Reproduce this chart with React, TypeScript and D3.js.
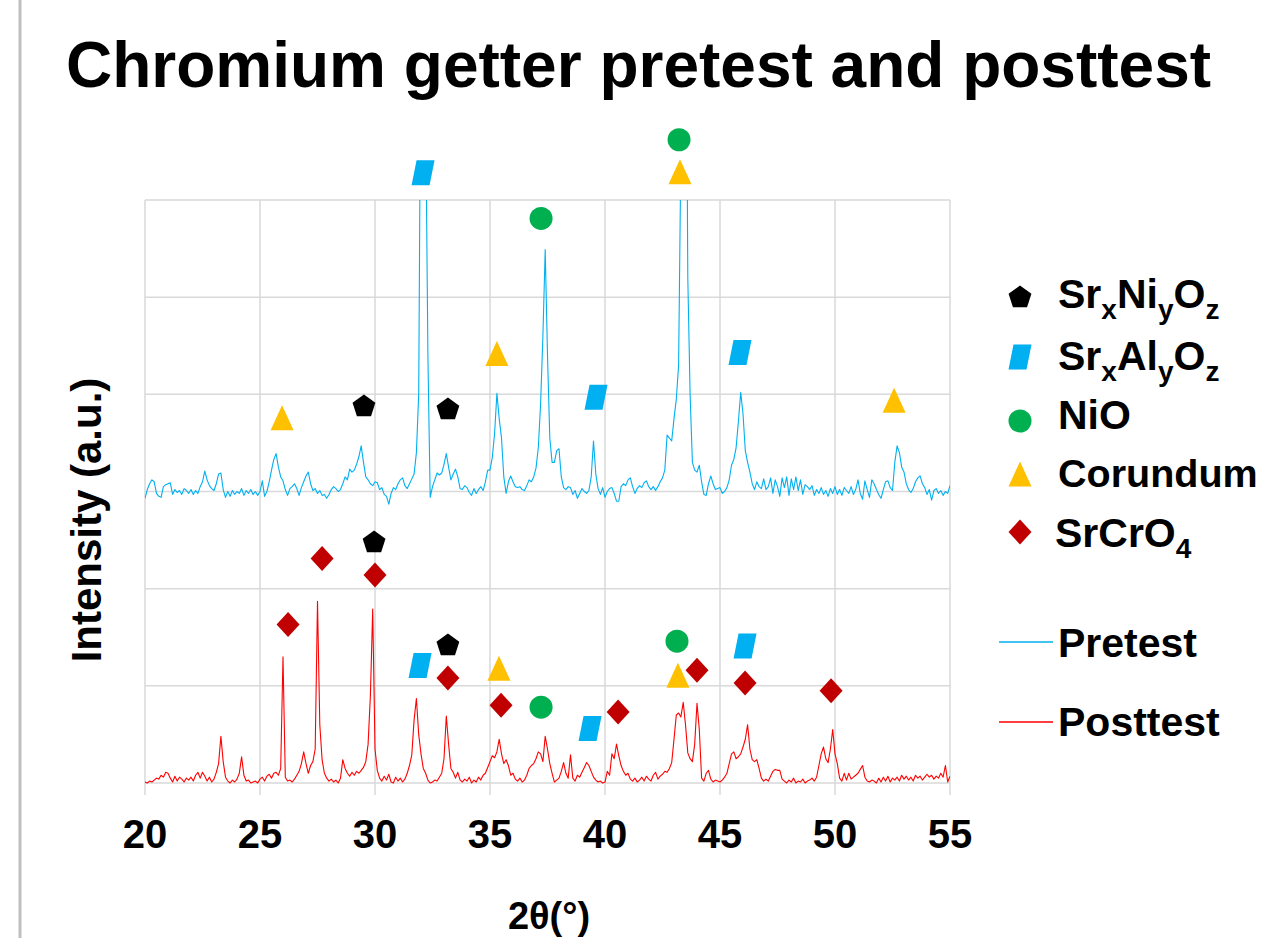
import React from "react";
import * as d3 from "d3";

// XRD scans, 20° to 55° in 0.1° steps (one row per degree)
const startAngle = 20;
const stepAngle = 0.1;

const pretest = [
  -0.07, 0.02, 0.08, 0.12, 0.10, -0.02, -0.05, -0.06, 0.05, 0.07,
  0.08, 0.09, -0.03, 0.02, -0.01, 0.01, -0.03, 0.03, 0.01, -0.02,
  0.02, -0.03, 0.01, -0.02, 0.05, 0.10, 0.21, 0.12, 0.06, 0.03,
  0.01, 0.08, 0.18, 0.19, 0.02, -0.06, 0.00, -0.05, 0.01, -0.03,
  0.00, -0.02, 0.03, -0.04, 0.01, -0.02, 0.02, -0.03, 0.00, -0.04,
  0.00, 0.11, -0.05, 0.00, 0.10, 0.22, 0.33, 0.39, 0.25, 0.15,
  0.11, 0.02, -0.04, 0.03, 0.05, 0.08, 0.03, -0.04, 0.04, 0.10,
  0.16, 0.20, 0.08, 0.01, 0.03, -0.02, 0.01, -0.04, -0.03, -0.07,
  -0.03, 0.02, 0.05, 0.03, 0.00, 0.02, 0.08, 0.15, 0.12, 0.23,
  0.20, 0.22, 0.28, 0.36, 0.47, 0.30, 0.15, 0.12, 0.08, 0.06,
  0.10, 0.09, 0.02, 0.04, -0.03, -0.05, -0.13, -0.02, 0.04, 0.02,
  0.08, 0.12, 0.14, 0.06, 0.03, 0.08, 0.13, 0.18, 0.40, 1.00,
  5.00, 9.00, 4.00, 1.40, -0.06, 0.05, 0.12, 0.19, 0.17, 0.19,
  0.28, 0.39, 0.25, 0.12, 0.18, 0.23, 0.15, 0.03, 0.02, 0.06,
  0.04, -0.01, -0.04, 0.03, -0.02, 0.02, 0.05, 0.01, 0.10, 0.22,
  0.22, 0.35, 0.60, 1.01, 0.75, 0.55, 0.15, -0.02, 0.10, 0.16,
  0.10, 0.05, 0.04, 0.05, 0.02, 0.01, 0.06, 0.12, 0.10, 0.15,
  0.24, 0.45, 0.90, 1.60, 2.49, 1.40, 0.55, 0.30, 0.30, 0.42,
  0.44, 0.15, 0.04, 0.02, 0.05, 0.04, -0.03, 0.01, -0.07, -0.02,
  0.03, 0.00, -0.02, 0.01, 0.15, 0.52, 0.18, 0.03, -0.03, 0.04,
  -0.06, 0.00, 0.03, 0.04, -0.02, -0.10, -0.10, 0.05, 0.08, 0.06,
  0.12, 0.14, 0.05, -0.02, 0.03, 0.06, 0.04, 0.09, 0.11, 0.05,
  0.02, 0.05, 0.01, 0.05, 0.10, 0.14, 0.22, 0.58, 0.55, 0.52,
  0.75, 0.95, 1.30, 3.50, 7.50, 6.50, 2.20, 1.00, 0.30, 0.22,
  0.20, 0.27, 0.10, -0.03, -0.04, 0.08, 0.16, 0.08, 0.02, 0.03,
  0.04, -0.02, 0.00, 0.04, 0.12, 0.27, 0.33, 0.45, 0.72, 1.02,
  0.80, 0.42, 0.30, 0.20, 0.08, 0.02, 0.10, 0.05, 0.03, 0.13,
  0.02, 0.05, 0.14, -0.02, 0.12, 0.05, -0.05, 0.14, 0.04, 0.15,
  -0.04, 0.13, 0.02, 0.15, 0.01, 0.12, -0.03, 0.07, 0.05, 0.02,
  0.06, -0.04, 0.02, -0.02, 0.04, -0.03, 0.01, -0.05, 0.03, -0.02,
  0.05, -0.03, 0.02, -0.04, 0.04, 0.01, -0.02, 0.05, -0.03, 0.02,
  0.12, -0.02, -0.08, 0.11, 0.02, -0.06, 0.12, 0.08, 0.02, -0.03,
  -0.07, 0.02, 0.10, 0.11, 0.04, 0.01, 0.30, 0.47, 0.40, 0.25,
  0.20, 0.08, 0.02, -0.01, 0.03, 0.10, 0.14, 0.16, 0.08, 0.04,
  -0.03, 0.02, -0.09, 0.01, 0.03, -0.02, 0.01, -0.04, 0.00, -0.02,
  0.06,
];

const posttest = [
  0.01, 0.00, 0.02, 0.01, 0.03, 0.05, 0.04, 0.08, 0.06, 0.11,
  0.10, 0.05, 0.01, 0.07, 0.02, 0.06, 0.04, 0.01, 0.05, 0.03,
  0.06, 0.02, 0.08, 0.11, 0.05, 0.11, 0.07, 0.02, 0.06, 0.01,
  0.04, 0.11, 0.20, 0.48, 0.22, 0.06, 0.02, 0.00, 0.03, 0.01,
  0.04, 0.10, 0.27, 0.08, 0.02, 0.03, 0.00, 0.01, 0.02, 0.00,
  0.04, 0.06, 0.02, 0.07, 0.09, 0.05, 0.10, 0.11, 0.08, 0.15,
  1.30, 0.06, 0.02, 0.03, 0.01, 0.04, 0.08, 0.12, 0.20, 0.32,
  0.20, 0.10, 0.18, 0.22, 0.35, 1.87, 0.60, 0.24, 0.10, 0.05,
  0.02, 0.04, 0.01, 0.03, 0.00, 0.05, 0.24, 0.15, 0.10, 0.07,
  0.11, 0.08, 0.12, 0.10, 0.13, 0.16, 0.22, 0.40, 0.90, 1.79,
  0.35, 0.13, 0.05, 0.02, 0.07, 0.03, 0.09, 0.01, 0.00, 0.06,
  0.02, 0.05, 0.01, 0.04, 0.10, 0.18, 0.29, 0.65, 0.87, 0.50,
  0.30, 0.15, 0.10, 0.03, 0.00, 0.01, 0.03, 0.02, 0.06, 0.10,
  0.25, 0.69, 0.40, 0.15, 0.11, 0.05, 0.11, 0.03, 0.01, 0.04,
  0.02, 0.06, 0.00, 0.03, 0.01, 0.06, 0.03, 0.08, 0.10, 0.16,
  0.22, 0.28, 0.26, 0.32, 0.45, 0.30, 0.20, 0.24, 0.18, 0.08,
  0.10, 0.04, 0.02, 0.05, 0.01, 0.03, 0.08, 0.15, 0.18, 0.20,
  0.25, 0.32, 0.30, 0.22, 0.48, 0.35, 0.20, 0.10, 0.01, 0.03,
  0.05, 0.12, 0.21, 0.10, 0.05, 0.29, 0.05, 0.02, 0.08, 0.06,
  0.11, 0.16, 0.21, 0.18, 0.12, 0.06, 0.03, 0.01, 0.02, 0.00,
  0.01, 0.12, 0.08, 0.30, 0.25, 0.40, 0.28, 0.18, 0.12, 0.08,
  0.10, 0.04, 0.02, 0.05, 0.01, 0.03, 0.06, 0.02, 0.07, 0.04,
  0.02, 0.08, 0.11, 0.04, 0.07, 0.09, 0.12, 0.11, 0.15, 0.21,
  0.45, 0.70, 0.72, 0.68, 0.83, 0.60, 0.31, 0.25, 0.22, 0.40,
  0.82, 0.55, 0.05, 0.02, 0.10, 0.13, 0.04, 0.01, 0.03, 0.02,
  0.01, 0.03, 0.06, 0.10, 0.20, 0.30, 0.32, 0.25, 0.27, 0.30,
  0.37, 0.45, 0.60, 0.35, 0.24, 0.22, 0.24, 0.15, 0.05, 0.02,
  0.04, 0.02, 0.07, 0.12, 0.14, 0.13, 0.13, 0.04, 0.02, 0.00,
  0.03, 0.01, 0.05, 0.00, 0.02, 0.01, 0.04, 0.00, 0.02, 0.03,
  0.05, 0.02, 0.06, 0.18, 0.30, 0.37, 0.25, 0.21, 0.35, 0.55,
  0.30, 0.20, 0.05, 0.02, 0.10, 0.03, 0.10, 0.04, 0.06, 0.08,
  0.10, 0.14, 0.18, 0.06, 0.02, 0.01, 0.03, 0.02, 0.00, 0.05,
  0.01, 0.06, 0.02, 0.07, 0.01, 0.05, 0.03, 0.06, 0.02, 0.08,
  0.04, 0.07, 0.03, 0.06, 0.02, 0.08, 0.05, 0.07, 0.03, 0.06,
  0.09, 0.06, 0.08, 0.04, 0.07, 0.05, 0.10, 0.06, 0.18, 0.01,
  0.07,
];

const pretestOffset = 3;

// phase markers [2θ, intensity]
const srNiO = [[29.52, 3.89], [33.17, 3.86], [29.96, 2.49], [33.17, 1.43]];
const srAlO = [[32.09, 6.28], [39.61, 3.97], [45.87, 4.43], [31.96, 1.21], [39.35, 0.56], [46.09, 1.41]];
const niO = [[43.22, 6.62], [37.22, 5.81], [37.22, 0.78], [43.13, 1.46]];
const corundum = [[43.26, 6.29], [35.3, 4.42], [25.96, 3.76], [52.57, 3.94], [35.39, 1.18], [43.17, 1.11]];
const srCrO4 = [[27.7, 2.31], [30.0, 2.14], [26.22, 1.63], [33.17, 1.08], [35.48, 0.8], [40.57, 0.73], [44.0, 1.16], [46.09, 1.03], [49.83, 0.95]];

const xTicks = [20, 25, 30, 35, 40, 45, 50, 55];

const FONT = "'Liberation Sans', Arial, Helvetica, sans-serif";
const BLUE = "#00B0F0";
const RED = "#FF0000";
const GRID = "#D9D9D9";

const pentagon = d3.range(5).map(k => {
  const a = -Math.PI / 2 + k * 2 * Math.PI / 5;
  return [12 * Math.cos(a), 12 * Math.sin(a) + 1.5];
});
const shapes = {
  pentagon: "M" + pentagon.map(p => p.join(",")).join("L") + "Z",
  para: "M-6.5,-12.5L11.5,-12.5L6.5,12.5L-11.5,12.5Z",
  triangle: "M0,-12.5L11.5,12.5L-11.5,12.5Z",
  diamond: "M0,-12.5L11.5,0L0,12.5L-11.5,0Z",
};

const phases = [
  { key: "srni", data: srNiO, shape: "pentagon", color: "#000000" },
  { key: "sral", data: srAlO, shape: "para", color: BLUE },
  { key: "nio", data: niO, shape: "circle", color: "#00B050" },
  { key: "cor", data: corundum, shape: "triangle", color: "#FFC000" },
  { key: "srcr", data: srCrO4, shape: "diamond", color: "#C00000" },
];

function Marker({ shape, color, x, y }) {
  if (shape === "circle") return <circle cx={x} cy={y} r={11.5} fill={color} />;
  return <path d={shapes[shape]} transform={`translate(${x},${y})`} fill={color} />;
}

export default function App() {
  const left = 145, right = 950, top = 200, bottom = 783;
  const x = d3.scaleLinear().domain([20, 55]).range([left, right]);
  const y = d3.scaleLinear().domain([0, 6]).range([bottom, top]);

  const line = (offset: number) =>
    d3.line<number>()
      .x((_, i) => x(startAngle + i * stepAngle))
      .y(d => y(d + offset));

  const legendRows = [
    { shape: "pentagon", color: "#000000", y: 296, tx: 1058, base: 308, size: 41, parts: [["Sr"], ["x", 1], ["Ni"], ["y", 1], ["O"], ["z", 1]] },
    { shape: "para", color: BLUE, y: 357, tx: 1058, base: 370, size: 41, parts: [["Sr"], ["x", 1], ["Al"], ["y", 1], ["O"], ["z", 1]] },
    { shape: "circle", color: "#00B050", y: 421, tx: 1058, base: 429, size: 41, parts: [["NiO"]] },
    { shape: "triangle", color: "#FFC000", y: 474, tx: 1058, base: 487, size: 39.5, parts: [["Corundum"]] },
    { shape: "diamond", color: "#C00000", y: 532, tx: 1055, base: 547, size: 41, parts: [["SrCrO"], ["4", 1]] },
  ];

  return (
    <svg width={1267} height={938} style={{ position: "absolute", left: 0, top: 0, display: "block", background: "#fff" }}
      fontFamily={FONT}>
      <rect width={1267} height={938} fill="#fff" />
      <line x1={20} x2={20} y1={0} y2={938} stroke="#BFBFBF" strokeWidth={3} />

      <text x={66} y={87} fontSize={64} fontWeight="bold">Chromium getter pretest and posttest</text>

      <defs>
        <clipPath id="plot">
          <rect x={left} y={top} width={right - left} height={bottom - top + 2} />
        </clipPath>
      </defs>

      {/* grid */}
      {y.ticks(6).map(t => (
        <line key={"h" + t} x1={left} x2={right} y1={y(t)} y2={y(t)} stroke={GRID} strokeWidth={1.5} />
      ))}
      {xTicks.map(t => (
        <line key={"v" + t} x1={x(t)} x2={x(t)} y1={top} y2={bottom + 12} stroke={GRID} strokeWidth={1.5} />
      ))}

      {/* spectra */}
      <g clipPath="url(#plot)" fill="none" strokeWidth={1.1} strokeLinejoin="round">
        <path d={line(pretestOffset)(pretest)} stroke={BLUE} />
        <path d={line(0)(posttest)} stroke={RED} />
      </g>

      {/* phase markers */}
      {phases.map(p =>
        p.data.map((d, i) => (
          <Marker key={p.key + i} shape={p.shape} color={p.color} x={x(d[0])} y={y(d[1])} />
        ))
      )}

      {/* axis labels */}
      {xTicks.map(t => (
        <text key={"l" + t} x={x(t)} y={848} fontSize={40} fontWeight="bold" textAnchor="middle">{t}</text>
      ))}
      <text x={549} y={929} fontSize={38} fontWeight="bold" textAnchor="middle">2θ(°)</text>
      <text transform="translate(101,520) rotate(-90)" fontSize={42} fontWeight="bold" textAnchor="middle">Intensity (a.u.)</text>

      {/* legend */}
      {legendRows.map((r, i) => (
        <g key={"lg" + i}>
          <Marker shape={r.shape} color={r.color} x={1020} y={r.y} />
          <text x={r.tx} y={r.base} fontSize={r.size} fontWeight="bold">
            {r.parts.map((p, j) => {
              const sub = p[1] === 1;
              const prevSub = j > 0 && r.parts[j - 1][1] === 1;
              const dy = sub ? 11 : prevSub ? -11 : 0;
              return <tspan key={j} fontSize={sub ? 28 : r.size} dy={dy}>{p[0]}</tspan>;
            })}
          </text>
        </g>
      ))}
      <line x1={999} x2={1053} y1={642} y2={642} stroke={BLUE} strokeWidth={1.5} />
      <text x={1058} y={657} fontSize={41} fontWeight="bold">Pretest</text>
      <line x1={999} x2={1053} y1={722} y2={722} stroke={RED} strokeWidth={1.5} />
      <text x={1058} y={736} fontSize={41} fontWeight="bold">Posttest</text>
    </svg>
  );
}
